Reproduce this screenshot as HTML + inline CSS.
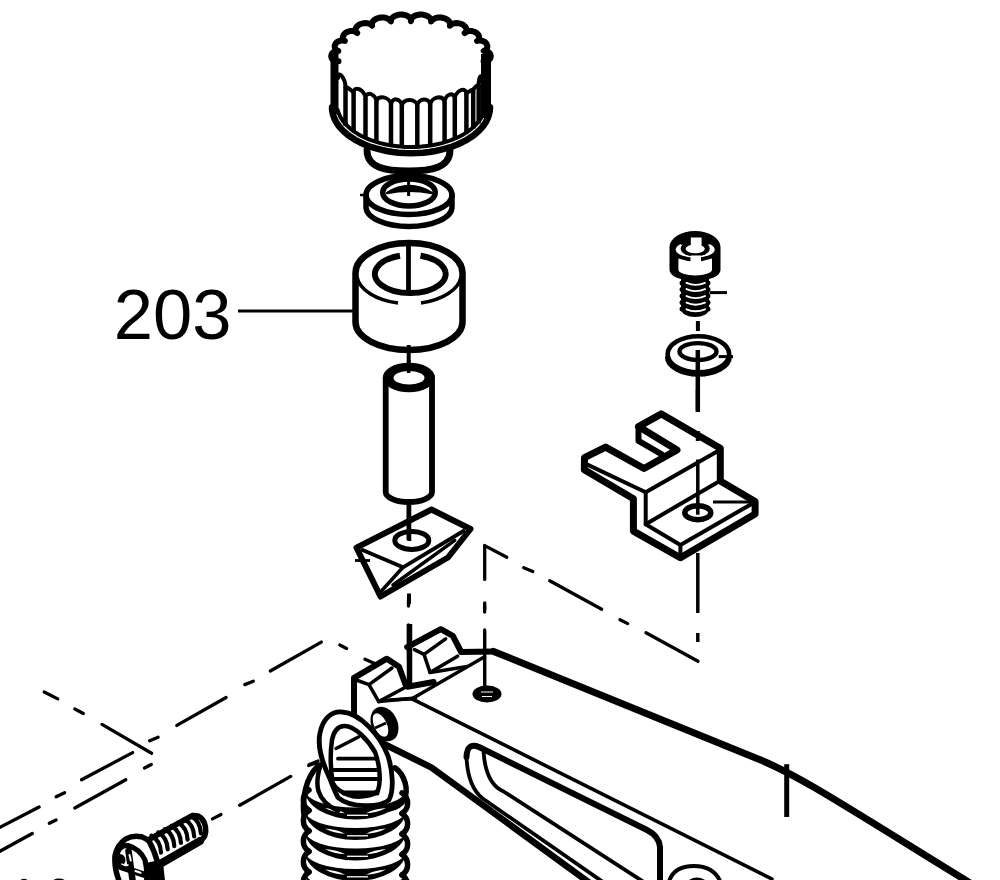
<!DOCTYPE html>
<html><head><meta charset="utf-8"><style>
html,body{margin:0;padding:0;background:#fff;overflow:hidden;}
svg{display:block;}
</style></head><body>
<svg width="1000" height="880" viewBox="0 0 1000 880">
<rect width="1000" height="880" fill="#fff"/>
<path d="M338.5,61.2 L336.6,61.2 L336.0,61.2 L335.5,61.1 L335.1,61.0 L334.8,60.9 L334.5,60.7 L334.3,60.6 L334.0,60.5 L333.8,60.4 L333.6,60.2 L333.4,60.1 L333.3,60.0 L333.1,59.9 L332.9,59.7 L332.8,59.6 L332.7,59.4 L332.5,59.3 L332.4,59.2 L332.3,59.0 L332.2,58.9 L332.1,58.8 L332.0,58.6 L331.9,58.5 L331.8,58.3 L331.8,58.2 L331.7,58.0 L331.6,57.9 L331.6,57.8 L331.5,57.6 L331.5,57.5 L331.4,57.3 L331.4,57.2 L331.4,57.0 L331.3,56.9 L331.3,56.7 L331.3,56.6 L331.3,56.5 L331.3,56.3 L331.3,56.2 L331.3,56.0 L331.3,55.9 L331.3,55.7 L331.3,55.6 L331.3,55.4 L331.4,55.3 L331.4,55.1 L331.4,55.0 L331.5,54.9 L331.5,54.7 L331.6,54.6 L331.6,54.4 L331.7,54.3 L331.8,54.2 L331.8,54.0 L331.9,53.9 L332.0,53.7 L332.1,53.6 L332.2,53.5 L332.3,53.3 L332.4,53.2 L332.5,53.1 L332.6,52.9 L332.7,52.8 L332.9,52.7 L333.0,52.5 L333.1,52.4 L333.3,52.3 L333.5,52.2 L333.6,52.1 L333.8,51.9 L334.0,51.8 L334.2,51.7 L334.4,51.6 L334.6,51.5 L334.8,51.4 L335.1,51.3 L335.3,51.2 L335.6,51.1 L336.0,51.0 L336.3,50.9 L336.8,50.9 L337.4,50.9 L338.3,50.9 L338.0,50.7 L337.3,50.4 L336.9,50.2 L336.6,50.0 L336.3,49.8 L336.1,49.6 L335.9,49.4 L335.7,49.3 L335.6,49.1 L335.5,48.9 L335.3,48.7 L335.2,48.6 L335.1,48.4 L335.1,48.2 L335.0,48.1 L334.9,47.9 L334.9,47.7 L334.8,47.6 L334.8,47.4 L334.8,47.2 L334.7,47.1 L334.7,46.9 L334.7,46.8 L334.7,46.6 L334.7,46.4 L334.7,46.3 L334.7,46.1 L334.7,46.0 L334.7,45.8 L334.8,45.7 L334.8,45.5 L334.8,45.4 L334.9,45.2 L334.9,45.1 L335.0,44.9 L335.0,44.8 L335.1,44.6 L335.1,44.5 L335.2,44.3 L335.3,44.2 L335.4,44.1 L335.4,43.9 L335.5,43.8 L335.6,43.6 L335.7,43.5 L335.8,43.4 L335.9,43.3 L336.0,43.1 L336.1,43.0 L336.3,42.9 L336.4,42.7 L336.5,42.6 L336.6,42.5 L336.8,42.4 L336.9,42.3 L337.1,42.2 L337.2,42.0 L337.4,41.9 L337.5,41.8 L337.7,41.7 L337.9,41.6 L338.1,41.5 L338.3,41.4 L338.4,41.3 L338.6,41.2 L338.8,41.2 L339.0,41.1 L339.3,41.0 L339.5,40.9 L339.7,40.8 L340.0,40.8 L340.2,40.7 L340.5,40.7 L340.7,40.6 L341.0,40.6 L341.3,40.5 L341.6,40.5 L341.9,40.5 L342.3,40.5 L342.7,40.5 L343.2,40.5 L343.7,40.6 L344.4,40.8 L344.9,40.9 L344.2,40.4 L343.8,40.0 L343.6,39.7 L343.4,39.5 L343.3,39.2 L343.2,39.0 L343.1,38.7 L343.0,38.5 L343.0,38.3 L342.9,38.1 L342.9,37.9 L342.9,37.7 L342.9,37.5 L342.9,37.3 L342.9,37.1 L342.9,36.9 L343.0,36.8 L343.0,36.6 L343.0,36.4 L343.1,36.2 L343.1,36.1 L343.2,35.9 L343.3,35.7 L343.3,35.6 L343.4,35.4 L343.5,35.3 L343.6,35.1 L343.7,34.9 L343.8,34.8 L343.9,34.7 L344.0,34.5 L344.1,34.4 L344.2,34.2 L344.3,34.1 L344.4,33.9 L344.6,33.8 L344.7,33.7 L344.8,33.6 L345.0,33.4 L345.1,33.3 L345.3,33.2 L345.4,33.1 L345.6,32.9 L345.7,32.8 L345.9,32.7 L346.0,32.6 L346.2,32.5 L346.4,32.4 L346.6,32.3 L346.8,32.2 L346.9,32.1 L347.1,32.0 L347.3,31.9 L347.5,31.8 L347.7,31.8 L347.9,31.7 L348.1,31.6 L348.4,31.5 L348.6,31.5 L348.8,31.4 L349.0,31.3 L349.3,31.3 L349.5,31.2 L349.7,31.2 L350.0,31.1 L350.2,31.1 L350.5,31.1 L350.7,31.0 L351.0,31.0 L351.3,31.0 L351.6,31.0 L351.9,31.0 L352.2,31.0 L352.5,31.0 L352.8,31.0 L353.1,31.1 L353.5,31.1 L353.8,31.2 L354.2,31.3 L354.7,31.5 L355.2,31.6 L355.8,32.0 L357.3,33.1 L356.1,31.8 L355.8,31.3 L355.7,30.9 L355.6,30.5 L355.5,30.2 L355.5,29.9 L355.5,29.7 L355.6,29.4 L355.6,29.2 L355.6,29.0 L355.7,28.7 L355.8,28.5 L355.8,28.3 L355.9,28.1 L356.0,27.9 L356.1,27.8 L356.2,27.6 L356.3,27.4 L356.4,27.2 L356.5,27.0 L356.7,26.9 L356.8,26.7 L356.9,26.6 L357.1,26.4 L357.2,26.3 L357.4,26.1 L357.5,26.0 L357.7,25.8 L357.8,25.7 L358.0,25.6 L358.2,25.4 L358.3,25.3 L358.5,25.2 L358.7,25.1 L358.9,24.9 L359.0,24.8 L359.2,24.7 L359.4,24.6 L359.6,24.5 L359.8,24.4 L360.0,24.3 L360.2,24.2 L360.4,24.1 L360.6,24.0 L360.8,24.0 L361.1,23.9 L361.3,23.8 L361.5,23.7 L361.7,23.7 L362.0,23.6 L362.2,23.5 L362.4,23.5 L362.7,23.4 L362.9,23.4 L363.1,23.3 L363.4,23.3 L363.6,23.3 L363.9,23.2 L364.1,23.2 L364.4,23.2 L364.7,23.2 L364.9,23.1 L365.2,23.1 L365.4,23.1 L365.7,23.1 L366.0,23.1 L366.3,23.2 L366.6,23.2 L366.9,23.2 L367.1,23.2 L367.4,23.3 L367.7,23.3 L368.0,23.4 L368.4,23.5 L368.7,23.6 L369.0,23.7 L369.4,23.8 L369.7,23.9 L370.1,24.1 L370.5,24.3 L370.9,24.6 L371.4,25.0 L372.1,25.7 L372.1,25.3 L371.9,24.6 L371.9,24.1 L371.9,23.7 L372.0,23.4 L372.0,23.1 L372.1,22.8 L372.2,22.5 L372.4,22.3 L372.5,22.1 L372.6,21.8 L372.8,21.6 L372.9,21.4 L373.1,21.2 L373.2,21.0 L373.4,20.9 L373.6,20.7 L373.7,20.5 L373.9,20.4 L374.1,20.2 L374.3,20.0 L374.5,19.9 L374.7,19.8 L374.9,19.6 L375.1,19.5 L375.3,19.4 L375.5,19.2 L375.7,19.1 L375.9,19.0 L376.1,18.9 L376.3,18.8 L376.5,18.7 L376.8,18.6 L377.0,18.5 L377.2,18.4 L377.4,18.3 L377.7,18.3 L377.9,18.2 L378.1,18.1 L378.4,18.0 L378.6,18.0 L378.9,17.9 L379.1,17.9 L379.3,17.8 L379.6,17.8 L379.8,17.7 L380.1,17.7 L380.3,17.6 L380.6,17.6 L380.9,17.6 L381.1,17.6 L381.4,17.5 L381.6,17.5 L381.9,17.5 L382.2,17.5 L382.4,17.5 L382.7,17.5 L383.0,17.5 L383.2,17.5 L383.5,17.6 L383.8,17.6 L384.1,17.6 L384.3,17.6 L384.6,17.7 L384.9,17.7 L385.2,17.8 L385.5,17.9 L385.7,17.9 L386.0,18.0 L386.3,18.1 L386.6,18.2 L386.9,18.3 L387.2,18.4 L387.5,18.5 L387.8,18.7 L388.1,18.8 L388.4,19.0 L388.7,19.2 L389.1,19.4 L389.4,19.7 L389.7,20.0 L390.1,20.4 L390.5,21.1 L390.9,21.4 L390.9,20.5 L391.0,20.0 L391.1,19.5 L391.3,19.2 L391.4,18.9 L391.6,18.6 L391.8,18.3 L392.0,18.1 L392.2,17.9 L392.4,17.7 L392.6,17.5 L392.8,17.3 L393.0,17.1 L393.3,16.9 L393.5,16.8 L393.7,16.6 L393.9,16.5 L394.2,16.3 L394.4,16.2 L394.6,16.1 L394.9,16.0 L395.1,15.9 L395.4,15.7 L395.6,15.6 L395.9,15.5 L396.1,15.5 L396.3,15.4 L396.6,15.3 L396.8,15.2 L397.1,15.1 L397.3,15.1 L397.6,15.0 L397.9,14.9 L398.1,14.9 L398.4,14.8 L398.6,14.8 L398.9,14.7 L399.1,14.7 L399.4,14.7 L399.7,14.6 L399.9,14.6 L400.2,14.6 L400.4,14.6 L400.7,14.6 L401.0,14.6 L401.2,14.6 L401.5,14.6 L401.8,14.6 L402.0,14.6 L402.3,14.6 L402.6,14.6 L402.8,14.7 L403.1,14.7 L403.4,14.7 L403.6,14.8 L403.9,14.8 L404.2,14.9 L404.4,14.9 L404.7,15.0 L405.0,15.0 L405.2,15.1 L405.5,15.2 L405.8,15.3 L406.0,15.4 L406.3,15.5 L406.6,15.6 L406.8,15.7 L407.1,15.8 L407.4,15.9 L407.6,16.1 L407.9,16.2 L408.2,16.4 L408.4,16.5 L408.7,16.7 L409.0,16.9 L409.2,17.1 L409.5,17.4 L409.7,17.6 L410.0,17.9 L410.2,18.3 L410.5,18.7 L410.8,19.3 L411.0,21.2 L411.2,19.3 L411.5,18.7 L411.8,18.3 L412.0,17.9 L412.3,17.6 L412.5,17.4 L412.8,17.1 L413.0,16.9 L413.3,16.7 L413.6,16.5 L413.8,16.4 L414.1,16.2 L414.4,16.1 L414.6,15.9 L414.9,15.8 L415.2,15.7 L415.4,15.6 L415.7,15.5 L416.0,15.4 L416.2,15.3 L416.5,15.2 L416.8,15.1 L417.0,15.0 L417.3,15.0 L417.6,14.9 L417.8,14.9 L418.1,14.8 L418.4,14.8 L418.6,14.7 L418.9,14.7 L419.2,14.7 L419.4,14.6 L419.7,14.6 L420.0,14.6 L420.2,14.6 L420.5,14.6 L420.8,14.6 L421.0,14.6 L421.3,14.6 L421.6,14.6 L421.8,14.6 L422.1,14.6 L422.3,14.6 L422.6,14.7 L422.9,14.7 L423.1,14.7 L423.4,14.8 L423.6,14.8 L423.9,14.9 L424.1,14.9 L424.4,15.0 L424.7,15.1 L424.9,15.1 L425.2,15.2 L425.4,15.3 L425.7,15.4 L425.9,15.5 L426.1,15.5 L426.4,15.6 L426.6,15.7 L426.9,15.9 L427.1,16.0 L427.4,16.1 L427.6,16.2 L427.8,16.3 L428.1,16.5 L428.3,16.6 L428.5,16.8 L428.7,16.9 L429.0,17.1 L429.2,17.3 L429.4,17.5 L429.6,17.7 L429.8,17.9 L430.0,18.1 L430.2,18.3 L430.4,18.6 L430.6,18.9 L430.7,19.2 L430.9,19.5 L431.0,20.0 L431.1,20.5 L431.1,21.4 L431.5,21.1 L431.9,20.4 L432.3,20.0 L432.6,19.7 L432.9,19.4 L433.3,19.2 L433.6,19.0 L433.9,18.8 L434.2,18.7 L434.5,18.5 L434.8,18.4 L435.1,18.3 L435.4,18.2 L435.7,18.1 L436.0,18.0 L436.3,17.9 L436.5,17.9 L436.8,17.8 L437.1,17.7 L437.4,17.7 L437.7,17.6 L437.9,17.6 L438.2,17.6 L438.5,17.6 L438.8,17.5 L439.0,17.5 L439.3,17.5 L439.6,17.5 L439.8,17.5 L440.1,17.5 L440.4,17.5 L440.6,17.5 L440.9,17.6 L441.1,17.6 L441.4,17.6 L441.7,17.6 L441.9,17.7 L442.2,17.7 L442.4,17.8 L442.7,17.8 L442.9,17.9 L443.1,17.9 L443.4,18.0 L443.6,18.0 L443.9,18.1 L444.1,18.2 L444.3,18.3 L444.6,18.3 L444.8,18.4 L445.0,18.5 L445.2,18.6 L445.5,18.7 L445.7,18.8 L445.9,18.9 L446.1,19.0 L446.3,19.1 L446.5,19.2 L446.7,19.4 L446.9,19.5 L447.1,19.6 L447.3,19.8 L447.5,19.9 L447.7,20.0 L447.9,20.2 L448.1,20.4 L448.3,20.5 L448.4,20.7 L448.6,20.9 L448.8,21.0 L448.9,21.2 L449.1,21.4 L449.2,21.6 L449.4,21.8 L449.5,22.1 L449.6,22.3 L449.8,22.5 L449.9,22.8 L450.0,23.1 L450.0,23.4 L450.1,23.7 L450.1,24.1 L450.1,24.6 L449.9,25.3 L449.9,25.7 L450.6,25.0 L451.1,24.6 L451.5,24.3 L451.9,24.1 L452.3,23.9 L452.6,23.8 L453.0,23.7 L453.3,23.6 L453.6,23.5 L454.0,23.4 L454.3,23.3 L454.6,23.3 L454.9,23.2 L455.1,23.2 L455.4,23.2 L455.7,23.2 L456.0,23.1 L456.3,23.1 L456.6,23.1 L456.8,23.1 L457.1,23.1 L457.3,23.2 L457.6,23.2 L457.9,23.2 L458.1,23.2 L458.4,23.3 L458.6,23.3 L458.9,23.3 L459.1,23.4 L459.3,23.4 L459.6,23.5 L459.8,23.5 L460.0,23.6 L460.3,23.7 L460.5,23.7 L460.7,23.8 L460.9,23.9 L461.2,24.0 L461.4,24.0 L461.6,24.1 L461.8,24.2 L462.0,24.3 L462.2,24.4 L462.4,24.5 L462.6,24.6 L462.8,24.7 L463.0,24.8 L463.1,24.9 L463.3,25.1 L463.5,25.2 L463.7,25.3 L463.8,25.4 L464.0,25.6 L464.2,25.7 L464.3,25.8 L464.5,26.0 L464.6,26.1 L464.8,26.3 L464.9,26.4 L465.1,26.6 L465.2,26.7 L465.3,26.9 L465.5,27.0 L465.6,27.2 L465.7,27.4 L465.8,27.6 L465.9,27.8 L466.0,27.9 L466.1,28.1 L466.2,28.3 L466.2,28.5 L466.3,28.7 L466.4,29.0 L466.4,29.2 L466.4,29.4 L466.5,29.7 L466.5,29.9 L466.5,30.2 L466.4,30.5 L466.3,30.9 L466.2,31.3 L465.9,31.8 L464.7,33.1 L466.2,32.0 L466.8,31.6 L467.3,31.5 L467.8,31.3 L468.2,31.2 L468.5,31.1 L468.9,31.1 L469.2,31.0 L469.5,31.0 L469.8,31.0 L470.1,31.0 L470.4,31.0 L470.7,31.0 L471.0,31.0 L471.3,31.0 L471.5,31.1 L471.8,31.1 L472.0,31.1 L472.3,31.2 L472.5,31.2 L472.7,31.3 L473.0,31.3 L473.2,31.4 L473.4,31.5 L473.6,31.5 L473.9,31.6 L474.1,31.7 L474.3,31.8 L474.5,31.8 L474.7,31.9 L474.9,32.0 L475.1,32.1 L475.2,32.2 L475.4,32.3 L475.6,32.4 L475.8,32.5 L476.0,32.6 L476.1,32.7 L476.3,32.8 L476.4,32.9 L476.6,33.1 L476.7,33.2 L476.9,33.3 L477.0,33.4 L477.2,33.6 L477.3,33.7 L477.4,33.8 L477.6,33.9 L477.7,34.1 L477.8,34.2 L477.9,34.4 L478.0,34.5 L478.1,34.7 L478.2,34.8 L478.3,34.9 L478.4,35.1 L478.5,35.3 L478.6,35.4 L478.7,35.6 L478.7,35.7 L478.8,35.9 L478.9,36.1 L478.9,36.2 L479.0,36.4 L479.0,36.6 L479.0,36.8 L479.1,36.9 L479.1,37.1 L479.1,37.3 L479.1,37.5 L479.1,37.7 L479.1,37.9 L479.1,38.1 L479.0,38.3 L479.0,38.5 L478.9,38.7 L478.8,39.0 L478.7,39.2 L478.6,39.5 L478.4,39.7 L478.2,40.0 L477.8,40.4 L477.1,40.9 L477.6,40.8 L478.3,40.6 L478.8,40.5 L479.3,40.5 L479.7,40.5 L480.1,40.5 L480.4,40.5 L480.7,40.5 L481.0,40.6 L481.3,40.6 L481.5,40.7 L481.8,40.7 L482.0,40.8 L482.3,40.8 L482.5,40.9 L482.7,41.0 L483.0,41.1 L483.2,41.2 L483.4,41.2 L483.6,41.3 L483.7,41.4 L483.9,41.5 L484.1,41.6 L484.3,41.7 L484.5,41.8 L484.6,41.9 L484.8,42.0 L484.9,42.2 L485.1,42.3 L485.2,42.4 L485.4,42.5 L485.5,42.6 L485.6,42.7 L485.7,42.9 L485.9,43.0 L486.0,43.1 L486.1,43.3 L486.2,43.4 L486.3,43.5 L486.4,43.6 L486.5,43.8 L486.6,43.9 L486.6,44.1 L486.7,44.2 L486.8,44.3 L486.9,44.5 L486.9,44.6 L487.0,44.8 L487.0,44.9 L487.1,45.1 L487.1,45.2 L487.2,45.4 L487.2,45.5 L487.2,45.7 L487.3,45.8 L487.3,46.0 L487.3,46.1 L487.3,46.3 L487.3,46.4 L487.3,46.6 L487.3,46.8 L487.3,46.9 L487.3,47.1 L487.2,47.2 L487.2,47.4 L487.2,47.6 L487.1,47.7 L487.1,47.9 L487.0,48.1 L486.9,48.2 L486.9,48.4 L486.8,48.6 L486.7,48.7 L486.5,48.9 L486.4,49.1 L486.3,49.3 L486.1,49.4 L485.9,49.6 L485.7,49.8 L485.4,50.0 L485.1,50.2 L484.7,50.4 L484.0,50.7 L483.7,50.9 L484.6,50.9 L485.2,50.9 L485.7,50.9 L486.0,51.0 L486.4,51.1 L486.7,51.2 L486.9,51.3 L487.2,51.4 L487.4,51.5 L487.6,51.6 L487.8,51.7 L488.0,51.8 L488.2,51.9 L488.4,52.1 L488.5,52.2 L488.7,52.3 L488.9,52.4 L489.0,52.5 L489.1,52.7 L489.3,52.8 L489.4,52.9 L489.5,53.1 L489.6,53.2 L489.7,53.3 L489.8,53.5 L489.9,53.6 L490.0,53.7 L490.1,53.9 L490.2,54.0 L490.2,54.2 L490.3,54.3 L490.4,54.4 L490.4,54.6 L490.5,54.7 L490.5,54.9 L490.6,55.0 L490.6,55.1 L490.6,55.3 L490.7,55.4 L490.7,55.6 L490.7,55.7 L490.7,55.9 L490.7,56.0 L490.7,56.2 L490.7,56.3 L490.7,56.5 L490.7,56.6 L490.7,56.7 L490.7,56.9 L490.6,57.0 L490.6,57.2 L490.6,57.3 L490.5,57.5 L490.5,57.6 L490.4,57.8 L490.4,57.9 L490.3,58.0 L490.2,58.2 L490.2,58.3 L490.1,58.5 L490.0,58.6 L489.9,58.8 L489.8,58.9 L489.7,59.0 L489.6,59.2 L489.5,59.3 L489.3,59.4 L489.2,59.6 L489.1,59.7 L488.9,59.9 L488.7,60.0 L488.6,60.1 L488.4,60.2 L488.2,60.4 L488.0,60.5 L487.7,60.6 L487.5,60.7 L487.2,60.9 L486.9,61.0 L486.5,61.1 L486.0,61.2 L485.4,61.2 L483.5,61.2" fill="none" stroke="#000" stroke-width="6" stroke-linejoin="round" stroke-linecap="round" />
<line x1="334.5" y1="54.0" x2="334.5" y2="114.0" stroke="#000" stroke-width="8" stroke-linecap="butt"/>
<line x1="486.0" y1="54.0" x2="486.0" y2="118.0" stroke="#000" stroke-width="10" stroke-linecap="butt"/>
<path d="M490.0,107.2 L489.8,110.9 L489.0,114.4 L487.8,118.0 L486.1,121.5 L484.0,124.9 L481.4,128.1 L478.4,131.3 L474.9,134.3 L471.1,137.1 L466.9,139.8 L462.3,142.2 L457.4,144.5 L452.3,146.5 L446.9,148.2 L441.2,149.7 L435.4,151.0 L429.4,152.0 L423.4,152.7 L417.2,153.1 L411.0,153.2 L404.8,153.1 L398.6,152.7 L392.6,152.0 L386.6,151.0 L380.8,149.7 L375.1,148.2 L369.7,146.5 L364.6,144.5 L359.7,142.2 L355.1,139.8 L350.9,137.1 L347.1,134.3 L343.6,131.3 L340.6,128.1 L338.0,124.9 L335.9,121.5 L334.2,118.0 L333.0,114.4 L332.2,110.9 L332.0,107.2" fill="none" stroke="#000" stroke-width="6.5" stroke-linejoin="round" stroke-linecap="round" />
<path d="M484.3,110.0 L483.4,113.0 L482.1,116.0 L480.4,118.9 L478.4,121.8 L476.0,124.5 L473.3,127.2 L470.3,129.7 L467.0,132.1 L463.4,134.4 L459.5,136.5 L455.4,138.4 L451.1,140.1 L446.5,141.7 L441.8,143.1 L436.9,144.3 L431.9,145.3 L426.8,146.0 L421.6,146.6 L416.3,146.9 L411.0,147.0 L405.7,146.9 L400.4,146.6 L395.2,146.0 L390.1,145.3 L385.1,144.3 L380.2,143.1 L375.5,141.7 L370.9,140.1 L366.6,138.4 L362.5,136.5 L358.6,134.4 L355.0,132.1 L351.7,129.7 L348.7,127.2 L346.0,124.5 L343.6,121.8 L341.6,118.9 L339.9,116.0 L338.6,113.0 L337.7,110.0" fill="none" stroke="#000" stroke-width="4" stroke-linejoin="round" stroke-linecap="round" />
<line x1="345.5" y1="86.3" x2="345.5" y2="125.8" stroke="#000" stroke-width="4.5" stroke-linecap="butt"/>
<line x1="353.6" y1="92.2" x2="353.6" y2="132.2" stroke="#000" stroke-width="4.5" stroke-linecap="butt"/>
<line x1="365.5" y1="98.0" x2="365.5" y2="138.4" stroke="#000" stroke-width="4.5" stroke-linecap="butt"/>
<line x1="376.4" y1="101.6" x2="376.4" y2="142.3" stroke="#000" stroke-width="4.5" stroke-linecap="butt"/>
<line x1="391.0" y1="104.6" x2="391.0" y2="145.5" stroke="#000" stroke-width="4.5" stroke-linecap="butt"/>
<line x1="401.8" y1="105.7" x2="401.8" y2="146.7" stroke="#000" stroke-width="4.5" stroke-linecap="butt"/>
<line x1="417.3" y1="105.9" x2="417.3" y2="146.9" stroke="#000" stroke-width="4.5" stroke-linecap="butt"/>
<line x1="430.2" y1="104.7" x2="430.2" y2="145.6" stroke="#000" stroke-width="4.5" stroke-linecap="butt"/>
<line x1="444.6" y1="101.9" x2="444.6" y2="142.6" stroke="#000" stroke-width="4.5" stroke-linecap="butt"/>
<line x1="454.8" y1="98.7" x2="454.8" y2="139.1" stroke="#000" stroke-width="4.5" stroke-linecap="butt"/>
<line x1="466.4" y1="93.4" x2="466.4" y2="133.4" stroke="#000" stroke-width="4.5" stroke-linecap="butt"/>
<line x1="473.2" y1="89.0" x2="473.2" y2="128.7" stroke="#000" stroke-width="4.5" stroke-linecap="butt"/>
<line x1="478.7" y1="84.2" x2="478.7" y2="123.5" stroke="#000" stroke-width="4.5" stroke-linecap="butt"/>
<path d="M338.0,78.1 C338.0,69.1 345.5,78.3 345.5,87.3 C345.5,85.8 353.6,91.7 353.6,93.2 C353.6,84.2 365.5,90.0 365.5,99.0 C365.5,90.0 376.4,93.6 376.4,102.6 C376.4,93.6 391.0,96.6 391.0,105.6 C391.0,96.6 401.8,97.7 401.8,106.7 C401.8,97.7 417.3,97.9 417.3,106.9 C417.3,97.9 430.2,96.7 430.2,105.7 C430.2,96.7 444.6,93.9 444.6,102.9 C444.6,93.9 454.8,90.7 454.8,99.7 C454.8,90.7 466.4,85.4 466.4,94.4 C466.4,92.9 473.2,88.5 473.2,90.0 C473.2,88.5 478.7,83.7 478.7,85.2 C478.7,76.2 482.0,72.3 482.0,81.3 " fill="none" stroke="#000" stroke-width="4" stroke-linejoin="round" stroke-linecap="round" />
<path d="M367,150 C367,168 386,171 408.5,171 C431,171 450,168 450,150" fill="none" stroke="#000" stroke-width="6.8" stroke-linejoin="round" stroke-linecap="round" />
<ellipse cx="409" cy="195" rx="43" ry="19.5" fill="none" stroke="#000" stroke-width="5.5" />
<path d="M366,195 L366,207 A43,19.5 0 0 0 452,207 L452,195" fill="none" stroke="#000" stroke-width="5.5" stroke-linejoin="round" stroke-linecap="round" />
<ellipse cx="409" cy="192.5" rx="26.3" ry="13.5" fill="none" stroke="#000" stroke-width="5.5" />
<path d="M387,193 Q409,179 432,193 Q409,188.5 387,193Z" fill="#000" stroke="#000" stroke-width="2.5" stroke-linejoin="round" stroke-linecap="round" />
<line x1="408.6" y1="172.0" x2="408.6" y2="196.0" stroke="#000" stroke-width="3" stroke-linecap="butt"/>
<line x1="360.0" y1="195.0" x2="366.0" y2="195.0" stroke="#000" stroke-width="2.5" stroke-linecap="butt"/>
<path d="M355.5,273 L355.5,322 A53.5,28 0 0 0 462.5,322 L462.5,273" fill="none" stroke="#000" stroke-width="6.5" stroke-linejoin="round" stroke-linecap="butt" />
<path d="M355.5,273 A53.5,30 0 0 1 462.5,273" fill="none" stroke="#000" stroke-width="6.5" stroke-linejoin="round" stroke-linecap="butt" />
<path d="M357,277 A53.5,30 0 0 0 398,303" fill="none" stroke="#000" stroke-width="3.6" stroke-linejoin="round" stroke-linecap="butt" />
<path d="M421,303 A53.5,30 0 0 0 461,277" fill="none" stroke="#000" stroke-width="3.6" stroke-linejoin="round" stroke-linecap="butt" />
<path d="M400,255.8 A35.4,19 0 1 0 420.5,255.8" fill="none" stroke="#000" stroke-width="6" stroke-linejoin="round" stroke-linecap="butt" />
<line x1="408.5" y1="246.0" x2="408.5" y2="292.0" stroke="#000" stroke-width="4.8" stroke-linecap="butt"/>
<line x1="408.7" y1="345.0" x2="408.7" y2="372.0" stroke="#000" stroke-width="4" stroke-linecap="butt"/>
<line x1="238.0" y1="311.0" x2="353.0" y2="311.0" stroke="#000" stroke-width="2.8" stroke-linecap="butt"/>
<text x="113.8" y="339.3" font-family="Liberation Sans, sans-serif" font-size="70.5" fill="#000">203</text>
<path d="M385.7,377 L385.7,492 A23.15,10 0 0 0 432,492 L432,377" fill="none" stroke="#000" stroke-width="5.8" stroke-linejoin="round" stroke-linecap="butt" />
<ellipse cx="408.9" cy="377.5" rx="26" ry="14.8" fill="#000"/>
<ellipse cx="409" cy="377.7" rx="15.5" ry="6.8" fill="#fff"/>
<line x1="408.7" y1="360.0" x2="408.7" y2="373.0" stroke="#000" stroke-width="3.5" stroke-linecap="butt"/>
<line x1="408.5" y1="504.0" x2="408.5" y2="540.0" stroke="#000" stroke-width="4" stroke-linecap="butt"/>
<path d="M356.5,547.7 L431.5,509.5 L470.5,529 L448,557.5 L380.5,596.5 Z" fill="none" stroke="#000" stroke-width="6" stroke-linejoin="round" stroke-linecap="round" />
<path d="M362.5,550 L403,567.3 L463.5,531" fill="none" stroke="#000" stroke-width="3.8" stroke-linejoin="round" stroke-linecap="round" />
<path d="M403,567.3 L381,591.5" fill="none" stroke="#000" stroke-width="3.5" stroke-linejoin="round" stroke-linecap="round" />
<path d="M393,585 L454.7,540.4" fill="none" stroke="#000" stroke-width="3.5" stroke-linejoin="round" stroke-linecap="round" />
<ellipse cx="411.8" cy="540.4" rx="17" ry="9" fill="none" stroke="#000" stroke-width="5" />
<line x1="409.3" y1="503.5" x2="409.3" y2="541.0" stroke="#000" stroke-width="4" stroke-linecap="butt"/>
<line x1="355.0" y1="560.5" x2="370.0" y2="560.5" stroke="#000" stroke-width="2.8" stroke-linecap="butt"/>
<line x1="409.0" y1="593.5" x2="409.0" y2="604.0" stroke="#000" stroke-width="4" stroke-linecap="butt"/>
<path d="M669.5,247 A25.5,16 0 0 1 720.5,247 L720.5,270 A25.5,11 0 0 1 669.5,270 Z" fill="#000"/>
<ellipse cx="695.2" cy="249.5" rx="19.5" ry="8.3" fill="#fff"/>
<ellipse cx="695.2" cy="248.5" rx="14.5" ry="8.3" fill="#000"/>
<path d="M681,242.5 Q695.2,236 709.4,242.5 L709.4,245 Q695.2,239 681,245 Z" fill="#000"/>
<ellipse cx="695.2" cy="248.8" rx="9.6" ry="4.4" fill="#fff"/>
<rect x="690.8" y="237.5" width="10.8" height="8" fill="#fff"/>
<path d="M678.4,258.6 Q695,264.5 712,258.6 L712,269.8 A16.8,5.6 0 0 1 678.4,269.8 Z" fill="#fff"/>
<rect x="690.5" y="255.5" width="10.5" height="7" fill="#fff"/>
<path d="M681,279 L709,279 L709,309 A14,8 0 0 1 681,309 Z" fill="#000"/>
<path d="M686.5,282.9 Q695.5,286.9 705,282.9" fill="none" stroke="#fff" stroke-width="1.9" stroke-linecap="round"/>
<path d="M686.5,289.1 Q695.5,293.1 705,289.1" fill="none" stroke="#fff" stroke-width="1.9" stroke-linecap="round"/>
<path d="M686.5,296.1 Q695.5,300.1 705,296.1" fill="none" stroke="#fff" stroke-width="1.9" stroke-linecap="round"/>
<path d="M686.5,302.7 Q695.5,306.7 705,302.7" fill="none" stroke="#fff" stroke-width="1.9" stroke-linecap="round"/>
<path d="M686.5,309.3 Q695.5,313.3 705,309.3" fill="none" stroke="#fff" stroke-width="1.9" stroke-linecap="round"/>
<ellipse cx="681.5" cy="283" rx="2" ry="2.5" fill="#000"/><ellipse cx="708.5" cy="283" rx="2" ry="2.5" fill="#000"/>
<ellipse cx="681.5" cy="289.5" rx="2" ry="2.5" fill="#000"/><ellipse cx="708.5" cy="289.5" rx="2" ry="2.5" fill="#000"/>
<ellipse cx="681.5" cy="296" rx="2" ry="2.5" fill="#000"/><ellipse cx="708.5" cy="296" rx="2" ry="2.5" fill="#000"/>
<ellipse cx="681.5" cy="302.5" rx="2" ry="2.5" fill="#000"/><ellipse cx="708.5" cy="302.5" rx="2" ry="2.5" fill="#000"/>
<ellipse cx="681.5" cy="309" rx="2" ry="2.5" fill="#000"/><ellipse cx="708.5" cy="309" rx="2" ry="2.5" fill="#000"/>
<line x1="709.5" y1="292.6" x2="727.0" y2="292.6" stroke="#000" stroke-width="3" stroke-linecap="butt"/>
<line x1="697.9" y1="321.0" x2="697.9" y2="331.0" stroke="#000" stroke-width="4" stroke-linecap="butt"/>
<ellipse cx="698.4" cy="354.2" rx="30.8" ry="18" fill="none" stroke="#000" stroke-width="4.6" />
<path d="M667.6,356.5 A30.8,17.5 0 0 0 729.2,356.5" fill="none" stroke="#000" stroke-width="5.5" stroke-linejoin="round" stroke-linecap="butt" />
<ellipse cx="698" cy="351.6" rx="18.5" ry="8.5" fill="none" stroke="#000" stroke-width="4.4" />
<line x1="718.7" y1="356.6" x2="733.0" y2="356.6" stroke="#000" stroke-width="3" stroke-linecap="butt"/>
<line x1="697.8" y1="350.0" x2="697.8" y2="412.0" stroke="#000" stroke-width="4.5" stroke-linecap="butt"/>
<path d="M584.5,457.7 L605.6,447.1 L644.0,468.5 L677.0,449.9 L638.5,426.6 L661.4,413.9 L720.3,448.3 L720.3,481.0 L755.1,501.5 L755.1,513.9 L680.4,557.7 L633.4,531.1 L633.4,498.8 L584.3,469.8Z" fill="none" stroke="#000" stroke-width="7" stroke-linejoin="round" stroke-linecap="round" />
<path d="M585.3,463.6 L645.7,492.2 L719.3,450.3" fill="none" stroke="#000" stroke-width="4" stroke-linejoin="round" stroke-linecap="round" />
<path d="M645.7,492.2 L645.7,524.2 L680.4,545.0 L752.0,503.7" fill="none" stroke="#000" stroke-width="4" stroke-linejoin="round" stroke-linecap="round" />
<path d="M645.7,524.2 L717.2,482.4" fill="none" stroke="#000" stroke-width="4" stroke-linejoin="round" stroke-linecap="round" />
<path d="M680.4,545.0 L680.4,556.7" fill="none" stroke="#000" stroke-width="4" stroke-linejoin="round" stroke-linecap="round" />
<path d="M638.5,426.6 L638.5,440.9 L661.4,454.2" fill="none" stroke="#000" stroke-width="6" stroke-linejoin="round" stroke-linecap="round" />
<path d="M645.9,430.3 L671.0,447.1" fill="none" stroke="#000" stroke-width="3" stroke-linejoin="round" stroke-linecap="round" />
<ellipse cx="697.8" cy="512.7" rx="13" ry="7" fill="none" stroke="#000" stroke-width="5.5" />
<line x1="697.8" y1="459.5" x2="697.8" y2="514.7" stroke="#000" stroke-width="3.5" stroke-linecap="butt"/>
<line x1="697.8" y1="390.0" x2="697.8" y2="410.0" stroke="#000" stroke-width="4" stroke-linecap="butt"/>
<line x1="697.8" y1="431.0" x2="697.8" y2="441.0" stroke="#000" stroke-width="4" stroke-linecap="butt"/>
<line x1="713.0" y1="502.0" x2="758.0" y2="502.0" stroke="#000" stroke-width="3" stroke-linecap="butt"/>
<line x1="697.8" y1="553.0" x2="697.8" y2="613.0" stroke="#000" stroke-width="3.5" stroke-linecap="butt"/>
<line x1="697.8" y1="633.0" x2="697.8" y2="642.0" stroke="#000" stroke-width="3.5" stroke-linecap="butt"/>
<line x1="484.7" y1="545.6" x2="484.7" y2="579.4" stroke="#000" stroke-width="3.3" stroke-linecap="round"/>
<line x1="484.7" y1="602.8" x2="484.7" y2="609.3" stroke="#000" stroke-width="3.3" stroke-linecap="round"/>
<line x1="484.7" y1="630.0" x2="484.7" y2="690.0" stroke="#000" stroke-width="3.3" stroke-linecap="round"/>
<line x1="484.7" y1="545.6" x2="506.8" y2="557.3" stroke="#000" stroke-width="3.3" stroke-linecap="round"/>
<line x1="523.7" y1="567.7" x2="532.8" y2="571.6" stroke="#000" stroke-width="3.3" stroke-linecap="round"/>
<line x1="549.7" y1="580.7" x2="601.7" y2="609.3" stroke="#000" stroke-width="3.3" stroke-linecap="round"/>
<line x1="620.0" y1="619.7" x2="627.7" y2="623.6" stroke="#000" stroke-width="3.3" stroke-linecap="round"/>
<line x1="646.0" y1="632.7" x2="698.0" y2="661.3" stroke="#000" stroke-width="3.3" stroke-linecap="round"/>
<line x1="0.0" y1="827.4" x2="39.1" y2="807.0" stroke="#000" stroke-width="3.3" stroke-linecap="round"/>
<line x1="56.1" y1="796.8" x2="64.6" y2="792.7" stroke="#000" stroke-width="3.3" stroke-linecap="round"/>
<line x1="81.6" y1="779.8" x2="132.6" y2="752.6" stroke="#000" stroke-width="3.3" stroke-linecap="round"/>
<line x1="149.6" y1="740.7" x2="158.1" y2="737.3" stroke="#000" stroke-width="3.3" stroke-linecap="round"/>
<line x1="176.8" y1="725.4" x2="226.1" y2="697.5" stroke="#000" stroke-width="3.3" stroke-linecap="round"/>
<line x1="244.8" y1="684.6" x2="253.3" y2="681.2" stroke="#000" stroke-width="3.3" stroke-linecap="round"/>
<line x1="270.3" y1="671.0" x2="321.3" y2="642.1" stroke="#000" stroke-width="3.3" stroke-linecap="round"/>
<line x1="0.0" y1="851.2" x2="32.3" y2="833.5" stroke="#000" stroke-width="3.3" stroke-linecap="round"/>
<line x1="49.3" y1="823.3" x2="56.1" y2="820.0" stroke="#000" stroke-width="3.3" stroke-linecap="round"/>
<line x1="74.8" y1="808.0" x2="125.8" y2="779.8" stroke="#000" stroke-width="3.3" stroke-linecap="round"/>
<line x1="144.5" y1="768.0" x2="151.3" y2="764.5" stroke="#000" stroke-width="3.3" stroke-linecap="round"/>
<line x1="212.5" y1="818.9" x2="221.0" y2="814.5" stroke="#000" stroke-width="3.3" stroke-linecap="round"/>
<line x1="239.7" y1="805.3" x2="290.7" y2="776.4" stroke="#000" stroke-width="3.3" stroke-linecap="round"/>
<line x1="309.4" y1="764.5" x2="318.0" y2="761.0" stroke="#000" stroke-width="3.3" stroke-linecap="round"/>
<line x1="44.2" y1="692.0" x2="57.8" y2="698.9" stroke="#000" stroke-width="3.3" stroke-linecap="round"/>
<line x1="74.8" y1="709.0" x2="83.3" y2="713.5" stroke="#000" stroke-width="3.3" stroke-linecap="round"/>
<line x1="102.0" y1="724.4" x2="151.6" y2="753.2" stroke="#000" stroke-width="3.3" stroke-linecap="round"/>
<line x1="339.8" y1="645.0" x2="346.6" y2="648.4" stroke="#000" stroke-width="3.3" stroke-linecap="round"/>
<line x1="365.0" y1="659.3" x2="374.6" y2="663.4" stroke="#000" stroke-width="3.3" stroke-linecap="round"/>
<line x1="408.5" y1="600.0" x2="408.5" y2="606.0" stroke="#000" stroke-width="3.3" stroke-linecap="round"/>
<line x1="408.5" y1="625.0" x2="408.5" y2="660.0" stroke="#000" stroke-width="3.3" stroke-linecap="round"/>
<line x1="484.6" y1="606.0" x2="484.6" y2="612.0" stroke="#000" stroke-width="3.3" stroke-linecap="round"/>
<path d="M354,745 L354,677.8 L386.9,658.7 L399,666.8 L406,686" fill="none" stroke="#000" stroke-width="6" stroke-linejoin="round" stroke-linecap="round" />
<path d="M357.6,680.5 L369,684.6 L392,668" fill="none" stroke="#000" stroke-width="3.5" stroke-linejoin="round" stroke-linecap="round" />
<path d="M369,684.6 L378.7,701.6 L406,687" fill="none" stroke="#000" stroke-width="3.5" stroke-linejoin="round" stroke-linecap="round" />
<path d="M378.7,701.6 L415.5,698" fill="none" stroke="#000" stroke-width="3.5" stroke-linejoin="round" stroke-linecap="round" />
<line x1="409.5" y1="624.0" x2="409.5" y2="687.0" stroke="#000" stroke-width="5.5" stroke-linecap="butt"/>
<path d="M407.2,647.2 L440.8,629.2 L452.8,635.8 L461.2,652 L493.6,651.4" fill="none" stroke="#000" stroke-width="6" stroke-linejoin="round" stroke-linecap="round" />
<path d="M414.4,649.6 L424,654.4 L445.6,638.8" fill="none" stroke="#000" stroke-width="3.5" stroke-linejoin="round" stroke-linecap="round" />
<path d="M424,654.4 L430,672.4 L457.6,656.2" fill="none" stroke="#000" stroke-width="3.5" stroke-linejoin="round" stroke-linecap="round" />
<path d="M430,672.4 L467.2,666.4" fill="none" stroke="#000" stroke-width="3.5" stroke-linejoin="round" stroke-linecap="round" />
<path d="M407.5,686.8 L433.6,682" fill="none" stroke="#000" stroke-width="6" stroke-linejoin="round" stroke-linecap="round" />
<path d="M390,700 L412,698.8 L772,879" fill="none" stroke="#000" stroke-width="3.6" stroke-linejoin="round" stroke-linecap="round" />
<path d="M412,698.8 L484.6,656.8" fill="none" stroke="#000" stroke-width="3.4" stroke-linejoin="round" stroke-linecap="round" />
<line x1="484.6" y1="630.4" x2="484.6" y2="686.0" stroke="#000" stroke-width="3" stroke-linecap="butt"/>
<ellipse cx="487" cy="694" rx="14.5" ry="8.5" fill="#000"/>
<path d="M481,692 L493,692 M482,696.5 L492,696.5" stroke="#fff" stroke-width="1"/>
<path d="M493.6,651.4 L760,759.8 C800,776 845,806 975,886" fill="none" stroke="#000" stroke-width="7" stroke-linejoin="round" stroke-linecap="round" />
<line x1="786.7" y1="764.2" x2="786.7" y2="817.0" stroke="#000" stroke-width="5" stroke-linecap="butt"/>
<path d="M381,742.5 L431.6,767.6 L600,890.5" fill="none" stroke="#000" stroke-width="6.5" stroke-linejoin="round" stroke-linecap="round" />
<path d="M660,886 L660,847 Q659,836 647,830 L479,747 Q467,742 466.5,757" fill="none" stroke="#000" stroke-width="6" stroke-linejoin="round" stroke-linecap="round" />
<path d="M466.5,755 Q467,785 482,798 L603,882" fill="none" stroke="#000" stroke-width="3.8" stroke-linejoin="round" stroke-linecap="round" />
<path d="M483.6,752.7 Q486,784 503.6,791.5 L650,886" fill="none" stroke="#000" stroke-width="3.8" stroke-linejoin="round" stroke-linecap="round" />
<path d="M668,886 Q671,866 694,866 Q716,866 722,886" fill="none" stroke="#000" stroke-width="4"/>
<path d="M690,881 Q697,877 704,881" fill="none" stroke="#000" stroke-width="3"/>
<ellipse cx="384.5" cy="724" rx="13" ry="18" transform="rotate(-25 384.5 724)" fill="#000"/>
<ellipse cx="380.5" cy="725" rx="6.3" ry="12.5" transform="rotate(-25 380.5 725)" fill="#fff"/>
<line x1="375.0" y1="728.0" x2="386.0" y2="723.0" stroke="#000" stroke-width="3" stroke-linecap="butt"/>
<path d="M305,790.0 A50.5,29.4 0 0 0 406,790.0 A50.5,17.6 0 0 1 305,790.0 Z" fill="#000"/>
<path d="M325,808.0 Q337,809.0 345,813.2 Q334,813.0 325,808.0 Z" fill="#fff"/>
<path d="M386,808.0 Q374,809.0 366,813.2 Q377,813.0 386,808.0 Z" fill="#fff"/>
<line x1="347" y1="815.3" x2="368" y2="815.3" stroke="#fff" stroke-width="1.3"/>
<path d="M309,790.0 C301.5,795.0 301.5,805.5 309,810.5" fill="none" stroke="#000" stroke-width="5.5" stroke-linejoin="round" stroke-linecap="round" />
<path d="M402,793.0 C409.5,798.0 409.5,808.5 402,813.5" fill="none" stroke="#000" stroke-width="5.5" stroke-linejoin="round" stroke-linecap="round" />
<path d="M305,810.5 A50.5,29.4 0 0 0 406,810.5 A50.5,17.6 0 0 1 305,810.5 Z" fill="#000"/>
<path d="M325,828.5 Q337,829.5 345,833.7 Q334,833.5 325,828.5 Z" fill="#fff"/>
<path d="M386,828.5 Q374,829.5 366,833.7 Q377,833.5 386,828.5 Z" fill="#fff"/>
<line x1="347" y1="835.8" x2="368" y2="835.8" stroke="#fff" stroke-width="1.3"/>
<path d="M309,810.5 C301.5,815.5 301.5,826.0 309,831.0" fill="none" stroke="#000" stroke-width="5.5" stroke-linejoin="round" stroke-linecap="round" />
<path d="M402,813.5 C409.5,818.5 409.5,829.0 402,834.0" fill="none" stroke="#000" stroke-width="5.5" stroke-linejoin="round" stroke-linecap="round" />
<path d="M305,831.0 A50.5,29.4 0 0 0 406,831.0 A50.5,17.6 0 0 1 305,831.0 Z" fill="#000"/>
<path d="M325,849.0 Q337,850.0 345,854.2 Q334,854.0 325,849.0 Z" fill="#fff"/>
<path d="M386,849.0 Q374,850.0 366,854.2 Q377,854.0 386,849.0 Z" fill="#fff"/>
<line x1="347" y1="856.3" x2="368" y2="856.3" stroke="#fff" stroke-width="1.3"/>
<path d="M309,831.0 C301.5,836.0 301.5,846.5 309,851.5" fill="none" stroke="#000" stroke-width="5.5" stroke-linejoin="round" stroke-linecap="round" />
<path d="M402,834.0 C409.5,839.0 409.5,849.5 402,854.5" fill="none" stroke="#000" stroke-width="5.5" stroke-linejoin="round" stroke-linecap="round" />
<path d="M305,851.5 A50.5,29.4 0 0 0 406,851.5 A50.5,17.6 0 0 1 305,851.5 Z" fill="#000"/>
<path d="M325,869.5 Q337,870.5 345,874.7 Q334,874.5 325,869.5 Z" fill="#fff"/>
<path d="M386,869.5 Q374,870.5 366,874.7 Q377,874.5 386,869.5 Z" fill="#fff"/>
<line x1="347" y1="876.8" x2="368" y2="876.8" stroke="#fff" stroke-width="1.3"/>
<path d="M309,851.5 C301.5,856.5 301.5,867.0 309,872.0" fill="none" stroke="#000" stroke-width="5.5" stroke-linejoin="round" stroke-linecap="round" />
<path d="M402,854.5 C409.5,859.5 409.5,870.0 402,875.0" fill="none" stroke="#000" stroke-width="5.5" stroke-linejoin="round" stroke-linecap="round" />
<path d="M305,872.0 A50.5,29.4 0 0 0 406,872.0 A50.5,17.6 0 0 1 305,872.0 Z" fill="#000"/>
<path d="M325,890.0 Q337,891.0 345,895.2 Q334,895.0 325,890.0 Z" fill="#fff"/>
<path d="M386,890.0 Q374,891.0 366,895.2 Q377,895.0 386,890.0 Z" fill="#fff"/>
<line x1="347" y1="897.3" x2="368" y2="897.3" stroke="#fff" stroke-width="1.3"/>
<path d="M309,872.0 C301.5,877.0 301.5,887.5 309,892.5" fill="none" stroke="#000" stroke-width="5.5" stroke-linejoin="round" stroke-linecap="round" />
<path d="M402,875.0 C409.5,880.0 409.5,890.5 402,895.5" fill="none" stroke="#000" stroke-width="5.5" stroke-linejoin="round" stroke-linecap="round" />
<path d="M318.5,765.5 C305,778 302,800 304,815" fill="none" stroke="#000" stroke-width="5.5" stroke-linejoin="round" stroke-linecap="round" />
<path d="M395,767.8 C405,775 409,790 404,800 C400,806 395,808 389,809" fill="none" stroke="#000" stroke-width="5.5" stroke-linejoin="round" stroke-linecap="round" />
<path d="M320.8,764.4 C314,785 316,800 338,811" fill="none" stroke="#000" stroke-width="4.5" stroke-linejoin="round" stroke-linecap="round" />
<line x1="308.6" y1="765.5" x2="316.8" y2="762.7" stroke="#000" stroke-width="3.3" stroke-linecap="round"/>
<path d="M330,779 C322,762 317,747 320,733 C323,718 332,711 342,712 C360,713 380,735 388,756 C393,772 394,790 389,800 C380,808 350,808 338,797.5 C334,790 332,784 330,779 Z" fill="#fff" stroke="#000" stroke-width="4.8" stroke-linejoin="round" stroke-linecap="round" />
<path d="M332.6,782.6 C330,765 330.5,750 332,740 C334,730 339,726 344.5,726 C355,726 368,740 375,752 C380,765 381,782 378,790.6 C372,797 355,798 349,795 C340,792 335,788 332.6,782.6 Z" fill="none" stroke="#000" stroke-width="4.5" stroke-linejoin="round" stroke-linecap="round" />
<path d="M336,748.5 L358.5,737" fill="none" stroke="#000" stroke-width="3.5" stroke-linejoin="round" stroke-linecap="round" />
<path d="M338,758.7 L376,758.7" fill="none" stroke="#000" stroke-width="3.8" stroke-linejoin="round" stroke-linecap="round" />
<path d="M334,770 L378,770" fill="none" stroke="#000" stroke-width="4.2" stroke-linejoin="round" stroke-linecap="round" />
<path d="M335,779 L380,779" fill="none" stroke="#000" stroke-width="4.2" stroke-linejoin="round" stroke-linecap="round" />
<path d="M344,793 L377,793" fill="none" stroke="#000" stroke-width="5" stroke-linejoin="round" stroke-linecap="round" />
<line x1="353.7" y1="690.0" x2="353.7" y2="716.0" stroke="#000" stroke-width="4" stroke-linecap="butt"/>
<path d="M148,840 L192.5,815.5 Q203,814.5 205.5,827 Q207,837 200,841" fill="none" stroke="#000" stroke-width="5.5" stroke-linejoin="round" stroke-linecap="round" />
<path d="M200,841 L160,864" fill="none" stroke="#000" stroke-width="8" stroke-linejoin="round" stroke-linecap="round" />
<path d="M151.5,835.6 Q160.5,840.6 161.0,852.6" fill="none" stroke="#000" stroke-width="4.2" stroke-linejoin="round" stroke-linecap="round" />
<path d="M158.2,832.4 Q167.2,837.4 167.7,849.4" fill="none" stroke="#000" stroke-width="4.2" stroke-linejoin="round" stroke-linecap="round" />
<path d="M164.8,829.2 Q173.8,834.2 174.3,846.2" fill="none" stroke="#000" stroke-width="4.2" stroke-linejoin="round" stroke-linecap="round" />
<path d="M171.4,826.0 Q180.4,831.0 180.9,843.0" fill="none" stroke="#000" stroke-width="4.2" stroke-linejoin="round" stroke-linecap="round" />
<path d="M178.1,822.7 Q187.1,827.7 187.6,839.7" fill="none" stroke="#000" stroke-width="4.2" stroke-linejoin="round" stroke-linecap="round" />
<path d="M184.8,819.5 Q193.8,824.5 194.2,836.5" fill="none" stroke="#000" stroke-width="4.2" stroke-linejoin="round" stroke-linecap="round" />
<path d="M191.4,816.3 Q200.4,821.3 200.9,833.3" fill="none" stroke="#000" stroke-width="4.2" stroke-linejoin="round" stroke-linecap="round" />
<path d="M119.5,882 Q114,868 115,856 Q117,845 126,838.8 Q133,835 141.6,836.8 Q146,838.5 149,841 Q154,850 157.5,862" fill="none" stroke="#000" stroke-width="5.5" stroke-linejoin="round" stroke-linecap="round" />
<path d="M116.5,857 Q118,845 128,845.5 Q140,849 145,860 Q147.5,870 146.5,882" fill="none" stroke="#000" stroke-width="5.2" stroke-linejoin="round" stroke-linecap="round" />
<path d="M146,863 L157,860.5 L163,862 L165,881 L146,881 Z" fill="#000"/>
<ellipse cx="120" cy="860" rx="5.5" ry="6" fill="#000"/>
<path d="M128.5,851 L132.5,880" fill="none" stroke="#000" stroke-width="6.5" stroke-linejoin="round" stroke-linecap="round" />
<path d="M121,867 L143.5,874.5" fill="none" stroke="#000" stroke-width="6.5" stroke-linejoin="round" stroke-linecap="round" />
<path d="M129.5,855 L130.8,860.5" stroke="#fff" stroke-width="2" stroke-linecap="round"/>
<path d="M135.5,871 L140.5,872.8" stroke="#fff" stroke-width="2" stroke-linecap="round"/>
<path d="M122,864 Q125,866.5 128,865" fill="none" stroke="#fff" stroke-width="1.5" stroke-linecap="round"/>
<path d="M20.5,882 Q24,878.8 27.5,882 M53,882 Q59,878.3 65,882" fill="none" stroke="#000" stroke-width="3.2"/>
</svg>
</body></html>
